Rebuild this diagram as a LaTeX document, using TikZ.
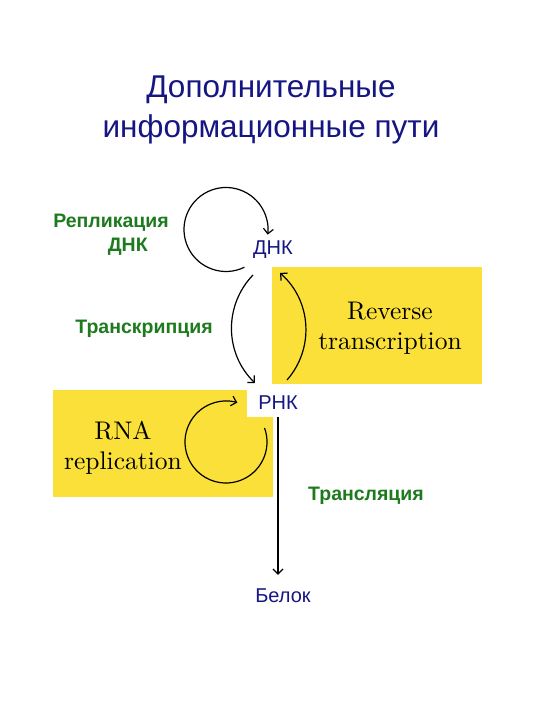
\documentclass[tikz,border=0pt]{standalone}
\usepackage{fontspec}
\newfontfamily\arialfont{Liberation Sans}
\newfontfamily\romanfont{lmroman10-regular.otf}
\usetikzlibrary{arrows.meta, positioning}
\definecolor{title_navy}{RGB}{22, 22, 130}
\definecolor{route_green}{RGB}{30, 122, 30}
\definecolor{box_yellow}{RGB}{250, 224, 56}

\begin{document}
\begin{tikzpicture}[
    x=1pt, y=1pt,
    process/.style={
        rectangle,
        fill=#1,
        inner sep=0pt
    },
    molecule/.style={
        text=#1,
        inner sep=2pt,
        font=\arialfont\fontsize{20}{24}\selectfont
    },
    route/.style={
        text=#1,
        align=center,
        font=\arialfont\bfseries\fontsize{19.5}{24}\selectfont
    },
    caption/.style={
        align=center,
        font=\romanfont\fontsize{25.5}{30}\selectfont
    },
    arrow/.style={
        -{Straight Barb[length=5pt, width=10pt]},
        line width=1.2pt,
        #1
    },
    arrow/.default=black
]

% page frame
\useasboundingbox (0,0) rectangle (540,720);

% Title
\node[text=title_navy, align=center, font=\arialfont\fontsize{31.5}{40}\selectfont] (title) at (271,610) {Дополнительные\\информационные пути};

% Yellow boxes
\node[process=box_yellow, minimum width=210pt, minimum height=117pt] (revbox) at (377,394.5) {};
\node[process=box_yellow, minimum width=220pt, minimum height=107pt] (repbox) at (163,276.5) {};

% Box captions
\node[caption] (revtext) at (390,392) {Reverse\\transcription};
\node[caption] (reptext) at (123,272) {RNA\\replication};

% Molecules
\node[molecule=title_navy] (dna) at (273,470) {ДНК};
\node[molecule=title_navy, fill=white, minimum width=62pt, minimum height=28pt] (rna) at (278,317) {РНК};
\node[molecule=title_navy] (protein) at (283,124) {Белок};

% Pathway names
\node[route=route_green, align=right] (dnarep) at (111,485) {Репликация\\ДНК\hspace*{21pt}};
\node[route=route_green] (transcr) at (144,391.5) {Транскрипция};
\node[route=route_green] (transl) at (366,224) {Трансляция};

% Loops
\coordinate (dnaloop) at (226,490.5);
\coordinate (rnaloop) at (226,278);
\draw[arrow] ([shift={(-64:42)}]dnaloop) arc[start angle=-64, end angle=-367, radius=42];
\draw[arrow] ([shift={(20:41)}]rnaloop) arc[start angle=20, end angle=-286, radius=41];

% Arrows
\draw[arrow] ([shift={(-20,-25)}]dna.center) to[bend right=45] ([shift={(-23,20)}]rna.center);
\draw[arrow] ([shift={(9,23)}]rna.center) to[bend right=45] ([shift={(7,-23)}]dna.center);
\draw[arrow, shorten >=12pt] (rna.south) -- (rna.south |- protein.north);

\end{tikzpicture}
\end{document}
